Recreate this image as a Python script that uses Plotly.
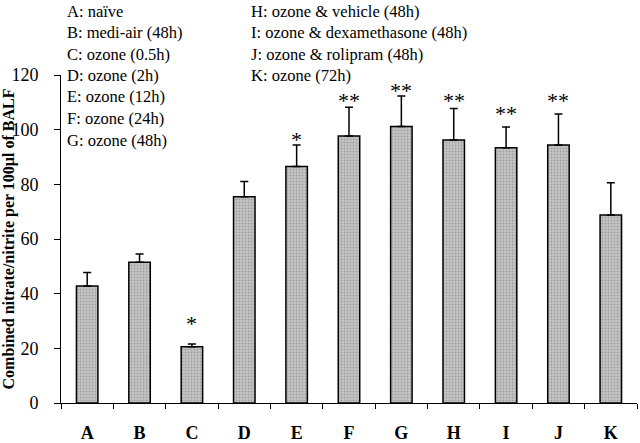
import plotly.graph_objects as go

groups = ["A", "B", "C", "D", "E", "F", "G", "H", "I", "J", "K"]
means = [42.8, 51.5, 20.6, 75.5, 86.5, 97.7, 101.2, 96.2, 93.4, 94.4, 68.8]
errors = [4.9, 3.0, 1.0, 5.5, 7.9, 10.5, 11.1, 11.5, 7.6, 11.3, 11.8]
stars = ["", "", "*", "", "*", "**", "**", "**", "**", "**", ""]
star_y = [None, None, 30.4, None, 98.0, 112.0, 115.7, 112.0, 107.2, 112.0, None]

legend_left = ["A: naïve", "B: medi-air (48h)", "C: ozone (0.5h)", "D: ozone (2h)",
               "E: ozone (12h)", "F: ozone (24h)", "G: ozone (48h)"]
legend_right = ["H: ozone & vehicle (48h)", "I: ozone & dexamethasone (48h)",
                "J: ozone & rolipram (48h)", "K: ozone (72h)"]

serif = "Liberation Serif"

fig = go.Figure()
fig.add_trace(go.Bar(
    x=groups, y=means,
    marker=dict(color="#b3b3b3", line=dict(color="black", width=1.5),
                pattern=dict(shape=".", fgcolor="#7a7a7a", bgcolor="#c4c4c4", size=3, solidity=0.3)),
    error_y=dict(type="data", array=errors, arrayminus=[0] * len(errors), symmetric=False,
                 color="black", thickness=1.5, width=4),
    width=0.41,
))

# significance stars
for g, sy, s in zip(groups, star_y, stars):
    if s:
        fig.add_annotation(x=g, y=sy, text=s, showarrow=False, yanchor="middle", yshift=-4,
                           font=dict(family=serif, size=22, color="black"))

# group key in two columns (pixel positions -> paper coords; plot area is 61..637 x 75..403)
def px_x(x):
    return (x - 61) / (637 - 61)

def px_y(y):
    return (403 - y) / (403 - 75)

for i, t in enumerate(legend_left):
    fig.add_annotation(x=px_x(65), y=px_y(11 + i * 21.5), xref="paper", yref="paper", text=t,
                       showarrow=False, xanchor="left", yanchor="middle",
                       font=dict(family=serif, size=16.5, color="black"))
for i, t in enumerate(legend_right):
    fig.add_annotation(x=px_x(249), y=px_y(11 + i * 21.5), xref="paper", yref="paper", text=t,
                       showarrow=False, xanchor="left", yanchor="middle",
                       font=dict(family=serif, size=16.5, color="black"))

fig.update_layout(
    width=640, height=443,
    margin=dict(l=61, r=3, t=75, b=40, autoexpand=False),
    plot_bgcolor="white", paper_bgcolor="white",
    showlegend=False,
    font=dict(family=serif, color="black"),
)
fig.update_xaxes(showline=True, linecolor="black", linewidth=1, ticks="outside", tickson="boundaries",
                 ticklen=5, tickcolor="black", tickfont=dict(family=serif, size=18, color="black"),
                 ticklabelstandoff=13, tickprefix="<b>", ticksuffix="</b>", automargin=False)
fig.update_yaxes(range=[0, 120], dtick=20, showline=True, linecolor="black", linewidth=1,
                 ticks="outside", ticklen=6, tickcolor="black", showgrid=False, zeroline=False,
                 tickfont=dict(family=serif, size=18, color="black"), ticklabelstandoff=12,
                 automargin=False,
                 title=dict(text="<b>Combined nitrate/nitrite per 100µl of BALF</b>", standoff=6,
                            font=dict(family=serif, size=16, color="black")))

# drop the page's default 8px body margin so the figure fills the window
fig.write_html("out.html", config={"displayModeBar": False},
               post_script="document.body.style.margin='0px';")
